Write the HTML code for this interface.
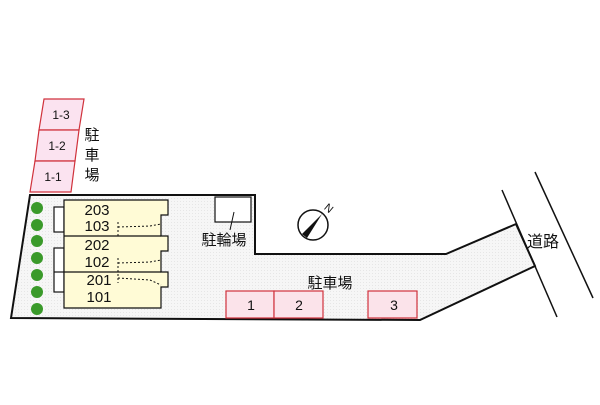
<!DOCTYPE html>
<html><head><meta charset="utf-8"><style>
body{margin:0;background:#fff;width:600px;height:400px;overflow:hidden}
text{font-family:"Liberation Sans","Noto Sans CJK JP",sans-serif;fill:#111}
</style></head><body>
<svg width="600" height="400" viewBox="0 0 600 400">
<defs><pattern id="dot" width="3" height="3" patternUnits="userSpaceOnUse"><rect width="3" height="3" fill="#f6f6f6"/><rect width="1" height="1" fill="#e6e6e6"/></pattern></defs>
<polygon points="30,195 255,195 255,254 446,254 516,224 535,266 420,320 11,318" fill="url(#dot)" stroke="#111" stroke-width="2"/>
<line x1="502" y1="190" x2="557" y2="317" stroke="#111" stroke-width="1.5"/>
<line x1="535" y1="172" x2="593" y2="298" stroke="#111" stroke-width="1.5"/>
<text x="543" y="247" font-size="16" text-anchor="middle">道路</text>
<g fill="#fbe3f0" stroke="#d0323c" stroke-width="1.2">
<polygon points="44,99 84,99 79,130 39,130"/>
<polygon points="39,130 79,130 75,161 35,161"/>
<polygon points="35,161 75,161 71,192 30,192"/>
</g>
<text x="61" y="119" font-size="12" text-anchor="middle">1-3</text>
<text x="57" y="150" font-size="12" text-anchor="middle">1-2</text>
<text x="53" y="181" font-size="12" text-anchor="middle">1-1</text>
<text x="92" y="140" font-size="15" text-anchor="middle">駐</text>
<text x="92" y="160" font-size="15" text-anchor="middle">車</text>
<text x="92" y="180" font-size="15" text-anchor="middle">場</text>
<g fill="#3a9a2a">
<circle cx="37" cy="208" r="6"/><circle cx="37" cy="225" r="6"/><circle cx="37" cy="241" r="6"/><circle cx="37" cy="258" r="6"/><circle cx="37" cy="275" r="6"/><circle cx="37" cy="292" r="6"/><circle cx="37" cy="309" r="6"/>
</g>
<g stroke="#111" stroke-width="1.2">
<rect x="54" y="207" width="10" height="25" fill="#fff"/>
<rect x="54" y="248" width="10" height="44" fill="#fff"/>
<line x1="54" y1="272" x2="64" y2="272"/>
<polygon points="64,200 168,200 168,215 161,215 161,236 168,236 168,251 161,251 161,272 168,272 168,287 161,287 161,308 64,308" fill="#fffbd6"/>
<line x1="64" y1="236" x2="161" y2="236"/>
<line x1="64" y1="272" x2="161" y2="272"/>
</g>
<g stroke="#111" stroke-width="1" stroke-dasharray="2,2" fill="none">
<polyline points="118,227 150,226 161,224"/>
<polyline points="118,263 150,262 161,260"/>
<polyline points="118,278 150,280 161,285"/>
<line x1="118" y1="222" x2="118" y2="237"/><line x1="118" y1="258" x2="118" y2="283"/>
</g>
<g font-size="15" text-anchor="middle">
<text x="97" y="215">203</text><text x="97" y="231">103</text>
<text x="97" y="250">202</text><text x="97" y="267">102</text>
<text x="99" y="285">201</text><text x="99" y="302">101</text>
</g>
<rect x="215" y="197" width="36" height="25" fill="#fff" stroke="#111" stroke-width="1.2"/>
<line x1="234" y1="212" x2="230" y2="230" stroke="#111"/>
<text x="224" y="245" font-size="15" text-anchor="middle">駐輪場</text>
<circle cx="313" cy="225" r="15" fill="#fff" stroke="#111" stroke-width="1.5"/>
<polygon points="302,234 322,214 307,238" fill="#111"/>
<text x="329" y="212" font-size="11" transform="rotate(40 329 208)" text-anchor="middle">N</text>
<g fill="#fbe3ea" stroke="#d0323c" stroke-width="1.2">
<rect x="226" y="291" width="48" height="27"/>
<rect x="274" y="291" width="49" height="27"/>
<rect x="368" y="291" width="49" height="27"/>
</g>
<g font-size="14" text-anchor="middle">
<text x="251" y="310">1</text><text x="299" y="310">2</text><text x="394" y="310">3</text>
</g>
<text x="330" y="288" font-size="15" text-anchor="middle">駐車場</text>
</svg>
</body></html>
